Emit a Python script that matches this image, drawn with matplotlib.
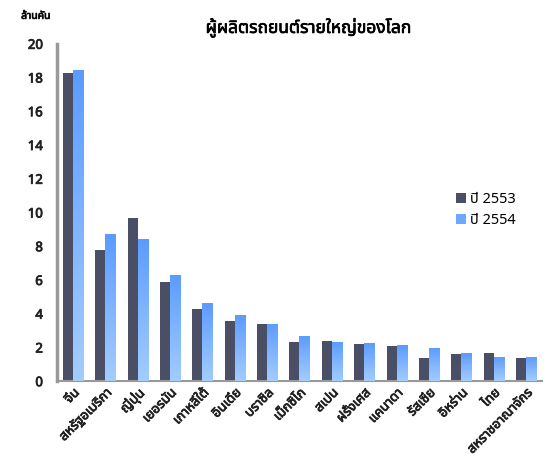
import numpy as np
import matplotlib
matplotlib.use("Agg")
import matplotlib.pyplot as plt
import matplotlib.patheffects as pe
from matplotlib import font_manager
from matplotlib.ft2font import FT2Font

countries = ["จีน", "สหรัฐอเมริกา", "ญี่ปุ่น", "เยอรมัน", "เกาหลีใต้", "อินเดีย", "บราซิล",
             "เม็กซิโก", "สเปน", "ฝรั่งเศส", "แคนาดา", "รัสเซีย", "อิหร่าน", "ไทย", "สหราชอาณาจักร"]
y2553 = [18.28, 7.77, 9.65, 5.90, 4.27, 3.56, 3.38, 2.34, 2.39, 2.23, 2.07, 1.40, 1.60, 1.65, 1.39]
y2554 = [18.44, 8.70, 8.45, 6.31, 4.66, 3.94, 3.41, 2.68, 2.35, 2.24, 2.13, 1.99, 1.65, 1.46, 1.46]
series_names = ["ปี 2553", "ปี 2554"]
title = "ผู้ผลิตรถยนต์รายใหญ่ของโลก"
unit = "ล้านคัน"


def find_thai_font():
    names = []
    for f in font_manager.fontManager.ttflist:
        try:
            if 0x0E01 in FT2Font(f.fname).get_charmap():
                names.append(f.name)
        except Exception:
            pass
    for pref in ["Tahoma", "Noto Sans Thai", "Noto Sans Thai UI", "Loma", "Garuda", "Sarabun"]:
        if pref in names:
            return pref
    return names[0] if names else None


thai = find_thai_font()
fams = [thai, "DejaVu Sans"] if thai else ["DejaVu Sans"]
plt.rcParams["font.family"] = fams

txt_col = "#222222"
fake_bold = [pe.withStroke(linewidth=0.6, foreground=txt_col)]

fig = plt.figure(figsize=(5.51, 4.66), dpi=100)
ax = fig.add_axes([0.103, 0.182, 0.881, 0.724])

x = np.arange(len(countries))
w = 0.31
dark = "#4b4f66"
b1 = ax.bar(x - w / 2, y2553, w, color=dark, zorder=2)
b2 = ax.bar(x + w / 2, y2554, w, color="#6fa8ff", zorder=2)

# vertical gradient on the second series
grad = np.linspace(0, 1, 256).reshape(-1, 1)
cmap = matplotlib.colors.LinearSegmentedColormap.from_list("g", ["#5b9bff", "#a3cdff"])
for bar in b2:
    bx, by = bar.get_x(), bar.get_y()
    bw, bh = bar.get_width(), bar.get_height()
    im = ax.imshow(grad, extent=[bx, bx + bw, by, by + bh], aspect="auto",
                   cmap=cmap, origin="upper", zorder=3)
    im.set_clip_path(bar)

ax.set_xlim(-0.5, len(countries) - 0.5)
ax.set_ylim(0, 20)
ax.set_yticks(np.arange(0, 21, 2))
ax.set_xticks(x)
ax.set_xticklabels(countries, rotation=45, ha="right", rotation_mode="anchor",
                   fontsize=9.5, color=txt_col)
ax.tick_params(axis="both", length=0)
ax.tick_params(axis="y", labelsize=9.5, labelcolor=txt_col, pad=10)
for lab in ax.get_yticklabels() + ax.get_xticklabels():
    lab.set_path_effects(fake_bold)

for s in ["top", "right"]:
    ax.spines[s].set_visible(False)
ax.spines["left"].set_color("#999999")
ax.spines["left"].set_linewidth(2.5)
ax.spines["bottom"].set_color("#999999")
ax.spines["bottom"].set_linewidth(1.5)

ax.legend([b1, b2], series_names, loc="upper left", bbox_to_anchor=(0.795, 0.60),
          frameon=False, handlelength=0.7, handleheight=0.7, handletextpad=0.3,
          labelspacing=0.4, fontsize=10.5)

fig.text(0.56, 0.94, title, ha="center", va="center", fontsize=12.5,
         path_effects=[pe.withStroke(linewidth=0.5, foreground="black")])
fig.text(0.065, 0.965, unit, ha="center", va="center", fontsize=7.5,
         path_effects=fake_bold)

fig.savefig("out.png", dpi=100)
